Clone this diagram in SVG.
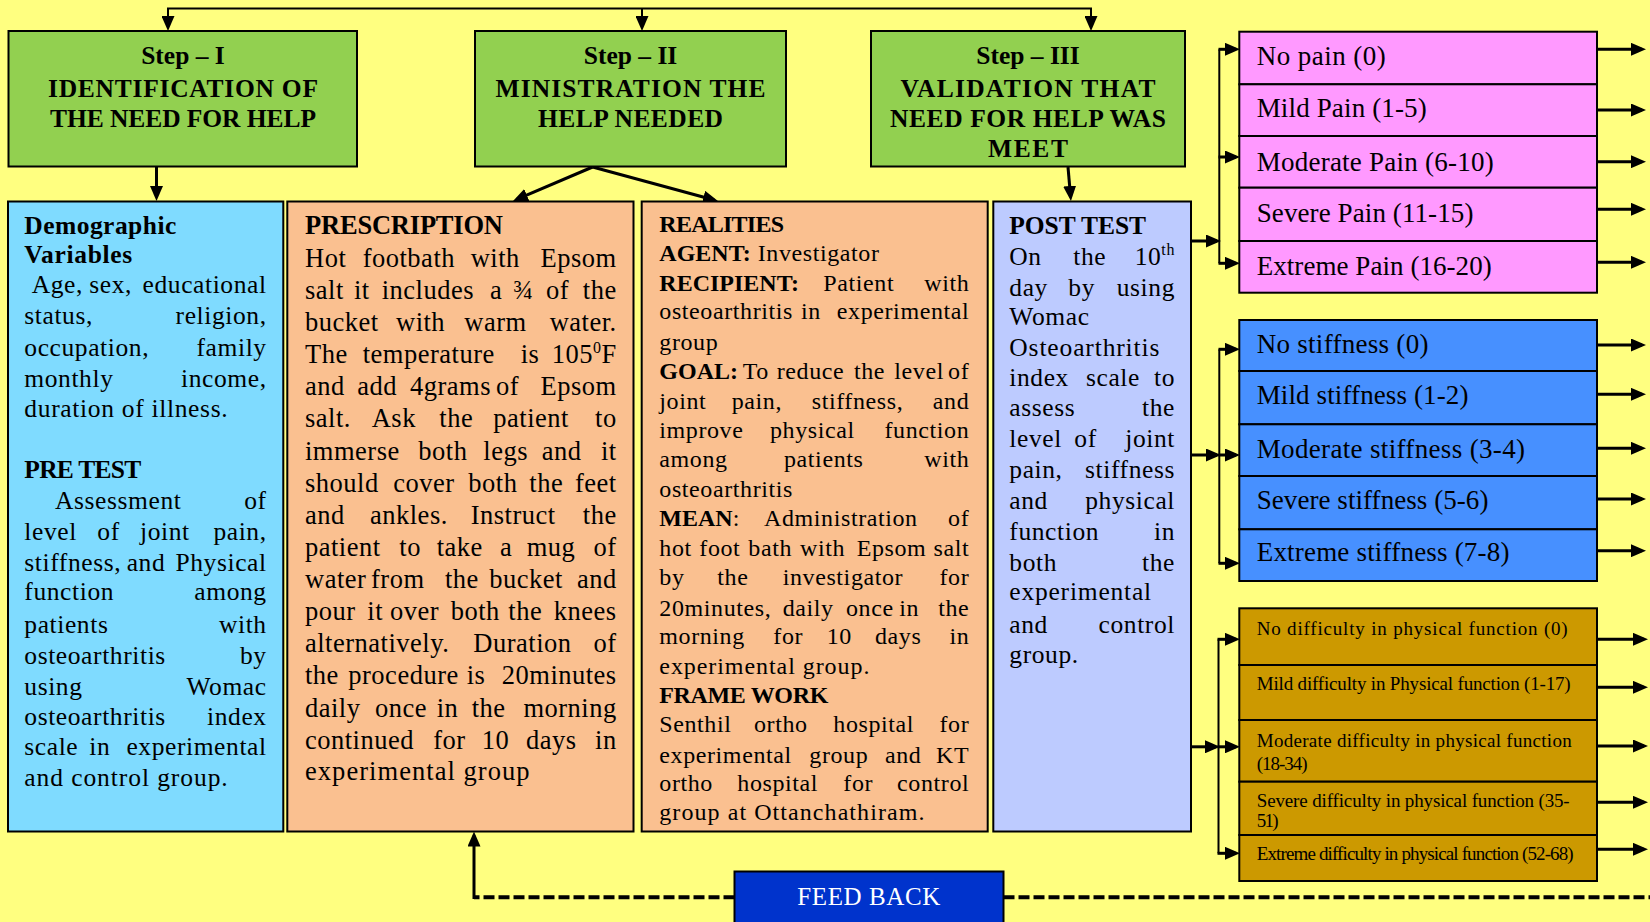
<svg xmlns="http://www.w3.org/2000/svg" width="1650" height="922" viewBox="0 0 1650 922">
<style>
.box{stroke:#000;stroke-width:2}
.green{fill:#92D050}.cyan{fill:#7FDBFF}.peach{fill:#FAC090}.lav{fill:#BDCBFF}
.pink{fill:#FF99FF}.blue{fill:#4790FF}.gold{fill:#CC9900}.fbk{fill:#0033CC}
text{font-family:"Liberation Serif","Times New Roman",serif;fill:#000}
.hd{font-weight:bold;font-size:25.5px;text-anchor:middle}
.d{font-size:25.5px;letter-spacing:0.6px}
.p{font-size:26.5px;letter-spacing:0.5px}
.r{font-size:24px;letter-spacing:0.6px}
.b{font-weight:bold;letter-spacing:0}
.s{font-size:27px}
.g{font-size:19px}
.e{text-anchor:end}
.fbt{font-size:25px;fill:#fff;text-anchor:middle}
.ln{fill:none;stroke:#000;stroke-width:3}
.thin{fill:none;stroke:#000;stroke-width:2}
.dash{fill:none;stroke:#000;stroke-width:4;stroke-dasharray:11 4}
</style>
<defs>
<marker id="ah" viewBox="0 0 15 13" refX="11" refY="6.5" markerWidth="15" markerHeight="13" markerUnits="userSpaceOnUse" orient="auto">
<path d="M0,0 L15,6.5 L0,13 z" fill="#000"/>
</marker>
</defs>
<rect x="0" y="0" width="1650" height="922" fill="#FFFF80"/>

<g id="connectors">
<path class="thin" d="M168,27 V8.5 H1091 V27" marker-end="url(#ah)"/>
<path class="thin" d="M168,8.5 V27" marker-end="url(#ah)"/>
<path class="thin" d="M642,8.5 V27" marker-end="url(#ah)"/>
<path class="ln" d="M156.5,166.5 V197" marker-end="url(#ah)"/>
<path class="ln" d="M592.6,167 L516.7,199.4" marker-end="url(#ah)"/>
<path class="ln" d="M592.6,167 L714.1,200" marker-end="url(#ah)"/>
<path class="ln" d="M1068,167 L1070.6,197" marker-end="url(#ah)"/>
<path class="dash" d="M734.5,897.3 H474"/>
<path class="dash" d="M1003.5,897.3 H1650"/>
<path class="ln" d="M474,899 V835.5" marker-end="url(#ah)"/>
<path class="ln" d="M1191,241 H1217" marker-end="url(#ah)"/>
<path class="thin" d="M1219.3,49.3 V263.3"/>
<path class="ln" d="M1218.5,49.3 H1236" marker-end="url(#ah)"/>
<path class="ln" d="M1218.5,157 H1236" marker-end="url(#ah)"/>
<path class="ln" d="M1218.5,263.3 H1236" marker-end="url(#ah)"/>
<path class="ln" d="M1191,455 H1217" marker-end="url(#ah)"/>
<path class="thin" d="M1219.3,349.3 V563.3"/>
<path class="ln" d="M1218.5,349.3 H1236" marker-end="url(#ah)"/>
<path class="ln" d="M1218.5,455 H1236" marker-end="url(#ah)"/>
<path class="ln" d="M1218.5,563.3 H1236" marker-end="url(#ah)"/>
<path class="ln" d="M1191,746.8 H1216" marker-end="url(#ah)"/>
<path class="thin" d="M1218.5,639.3 V853.3"/>
<path class="ln" d="M1217.5,639.3 H1236" marker-end="url(#ah)"/>
<path class="ln" d="M1217.5,746.8 H1236" marker-end="url(#ah)"/>
<path class="ln" d="M1217.5,853.3 H1236" marker-end="url(#ah)"/>
<path class="ln" d="M1597,49.3 H1642" marker-end="url(#ah)"/>
<path class="ln" d="M1597,110 H1642" marker-end="url(#ah)"/>
<path class="ln" d="M1597,161.7 H1642" marker-end="url(#ah)"/>
<path class="ln" d="M1597,209.3 H1642" marker-end="url(#ah)"/>
<path class="ln" d="M1597,262.3 H1642" marker-end="url(#ah)"/>
<path class="ln" d="M1597,345 H1642" marker-end="url(#ah)"/>
<path class="ln" d="M1597,394.3 H1642" marker-end="url(#ah)"/>
<path class="ln" d="M1597,448.3 H1642" marker-end="url(#ah)"/>
<path class="ln" d="M1597,499 H1642" marker-end="url(#ah)"/>
<path class="ln" d="M1597,550.7 H1642" marker-end="url(#ah)"/>
<path class="ln" d="M1597,639.3 H1644" marker-end="url(#ah)"/>
<path class="ln" d="M1597,687.3 H1644" marker-end="url(#ah)"/>
<path class="ln" d="M1597,746 H1644" marker-end="url(#ah)"/>
<path class="ln" d="M1597,802.3 H1644" marker-end="url(#ah)"/>
<path class="ln" d="M1597,849.3 H1644" marker-end="url(#ah)"/>
</g>

<g id="step1">
<rect class="box green" x="8.5" y="31" width="348.5" height="135.5"/>
<text class="hd" x="183" y="63.5">Step – I</text>
<text class="hd" x="183" y="96.5" textLength="270">IDENTIFICATION OF</text>
<text class="hd" x="183" y="126.5" textLength="266">THE NEED FOR HELP</text>
</g>
<g id="step2">
<rect class="box green" x="475" y="31" width="311" height="135.5"/>
<text class="hd" x="630.5" y="63.5">Step – II</text>
<text class="hd" x="630.5" y="96.5" textLength="270">MINISTRATION THE</text>
<text class="hd" x="630.5" y="126.5" textLength="185">HELP NEEDED</text>
</g>
<g id="step3">
<rect class="box green" x="871" y="31" width="314" height="135.5"/>
<text class="hd" x="1028" y="63.5">Step – III</text>
<text class="hd" x="1028" y="96.5" textLength="255">VALIDATION THAT</text>
<text class="hd" x="1028" y="126.5" textLength="276">NEED FOR HELP WAS</text>
<text class="hd" x="1028" y="156.5" textLength="80">MEET</text>
</g>

<g id="demographic">
<rect class="box cyan" x="8" y="201.5" width="275.3" height="630"/>
<text class="d b" x="24.3" y="233.5" textLength="152">Demographic</text>
<text class="d b" x="24.3" y="262.6" textLength="108">Variables</text>
<text class="d" y="292.8"><tspan x="31.7">Age,</tspan><tspan x="89.3">sex,</tspan><tspan x="266.7" class="e">educational</tspan></text>
<text class="d" y="323.5"><tspan x="24.3">status,</tspan><tspan x="266.7" class="e">religion,</tspan></text>
<text class="d" y="355.8"><tspan x="24.3">occupation,</tspan><tspan x="266.7" class="e">family</tspan></text>
<text class="d" y="386.9"><tspan x="24.3">monthly</tspan><tspan x="266.7" class="e">income,</tspan></text>
<text class="d" x="24.3" y="417.2" textLength="204">duration of illness.</text>
<text class="d b" x="24.3" y="478.1" textLength="117">PRE TEST</text>
<text class="d" y="509.2"><tspan x="55">Assessment</tspan><tspan x="266.7" class="e">of</tspan></text>
<text class="d" y="540.3"><tspan x="24.3">level</tspan><tspan x="97.3">of</tspan><tspan x="140">joint</tspan><tspan x="266.7" class="e">pain,</tspan></text>
<text class="d" y="570.6"><tspan x="24.3">stiffness,</tspan><tspan x="126.7">and</tspan><tspan x="266.7" class="e">Physical</tspan></text>
<text class="d" y="600.4"><tspan x="24.3">function</tspan><tspan x="266.7" class="e">among</tspan></text>
<text class="d" y="632.8"><tspan x="24.3">patients</tspan><tspan x="266.7" class="e">with</tspan></text>
<text class="d" y="663.5"><tspan x="24.3">osteoarthritis</tspan><tspan x="266.7" class="e">by</tspan></text>
<text class="d" y="695"><tspan x="24.3">using</tspan><tspan x="266.7" class="e">Womac</tspan></text>
<text class="d" y="724.8"><tspan x="24.3">osteoarthritis</tspan><tspan x="266.7" class="e">index</tspan></text>
<text class="d" y="754.7"><tspan x="24.3">scale</tspan><tspan x="89.3">in</tspan><tspan x="266.7" class="e">experimental</tspan></text>
<text class="d" x="24.3" y="785.8" textLength="204">and control group.</text>
</g>

<g id="prescription">
<rect class="box peach" x="287.3" y="201.5" width="346.2" height="630"/>
<text class="p b" x="305" y="233.5" textLength="198">PRESCRIPTION</text>
<text class="p" y="266.7"><tspan x="305">Hot</tspan><tspan x="362.7">footbath</tspan><tspan x="470.7">with</tspan><tspan x="616.7" class="e">Epsom</tspan></text>
<text class="p" y="298.6"><tspan x="305">salt</tspan><tspan x="354">it</tspan><tspan x="381.7">includes</tspan><tspan x="490">a</tspan><tspan x="513.3">¾</tspan><tspan x="546">of</tspan><tspan x="616.7" class="e">the</tspan></text>
<text class="p" y="331"><tspan x="305">bucket</tspan><tspan x="396">with</tspan><tspan x="464.3">warm</tspan><tspan x="616.7" class="e">water.</tspan></text>
<text class="p" y="363.3"><tspan x="305">The</tspan><tspan x="362.7">temperature</tspan><tspan x="520.7">is</tspan><tspan x="616.7" class="e">105<tspan dy="-10" font-size="16">0</tspan><tspan dy="10">F</tspan></tspan></text>
<text class="p" y="395.2"><tspan x="305">and</tspan><tspan x="357.3">add</tspan><tspan x="410">4grams</tspan><tspan x="496">of</tspan><tspan x="616.7" class="e">Epsom</tspan></text>
<text class="p" y="427.1"><tspan x="305">salt.</tspan><tspan x="371.7">Ask</tspan><tspan x="439.3">the</tspan><tspan x="493.3">patient</tspan><tspan x="616.7" class="e">to</tspan></text>
<text class="p" y="459.5"><tspan x="305">immerse</tspan><tspan x="418.3">both</tspan><tspan x="483.3">legs</tspan><tspan x="541.7">and</tspan><tspan x="616.7" class="e">it</tspan></text>
<text class="p" y="491.8"><tspan x="305">should</tspan><tspan x="393.3">cover</tspan><tspan x="468.3">both</tspan><tspan x="529.3">the</tspan><tspan x="616.7" class="e">feet</tspan></text>
<text class="p" y="523.7"><tspan x="305">and</tspan><tspan x="370">ankles.</tspan><tspan x="470.7">Instruct</tspan><tspan x="616.7" class="e">the</tspan></text>
<text class="p" y="555.7"><tspan x="305">patient</tspan><tspan x="399.3">to</tspan><tspan x="436.7">take</tspan><tspan x="500">a</tspan><tspan x="526.7">mug</tspan><tspan x="616.7" class="e">of</tspan></text>
<text class="p" y="588"><tspan x="305">water</tspan><tspan x="371">from</tspan><tspan x="445">the</tspan><tspan x="489.3">bucket</tspan><tspan x="616.7" class="e">and</tspan></text>
<text class="p" y="620.3"><tspan x="305">pour</tspan><tspan x="367.3">it</tspan><tspan x="390">over</tspan><tspan x="450.7">both</tspan><tspan x="508.3">the</tspan><tspan x="616.7" class="e">knees</tspan></text>
<text class="p" y="652.3"><tspan x="305">alternatively.</tspan><tspan x="473.3">Duration</tspan><tspan x="616.7" class="e">of</tspan></text>
<text class="p" y="684.2"><tspan x="305">the</tspan><tspan x="348.3">procedure</tspan><tspan x="466.7">is</tspan><tspan x="616.7" class="e">20minutes</tspan></text>
<text class="p" y="716.5"><tspan x="305">daily</tspan><tspan x="375">once</tspan><tspan x="436.7">in</tspan><tspan x="471.7">the</tspan><tspan x="616.7" class="e">morning</tspan></text>
<text class="p" y="748.9"><tspan x="305">continued</tspan><tspan x="433.3">for</tspan><tspan x="481.7">10</tspan><tspan x="526">days</tspan><tspan x="616.7" class="e">in</tspan></text>
<text class="p" x="305" y="779.6" textLength="225">experimental group</text>
</g>

<g id="realities">
<rect class="box peach" x="641.7" y="201.5" width="346" height="630"/>
<text class="r b" x="659.3" y="231.5" textLength="124.7">REALITIES</text>
<text class="r" y="260.5"><tspan x="659.3" class="b">AGENT:</tspan><tspan x="757.7">Investigator</tspan></text>
<text class="r" y="290.7"><tspan x="659.3" class="b">RECIPIENT:</tspan><tspan x="823.3">Patient</tspan><tspan x="969.3" class="e">with</tspan></text>
<text class="r" y="319.4"><tspan x="659.3">osteoarthritis</tspan><tspan x="801">in</tspan><tspan x="969.3" class="e">experimental</tspan></text>
<text class="r" x="659.3" y="349.6">group</text>
<text class="r" y="378.6"><tspan x="659.3" class="b">GOAL:</tspan><tspan x="742.7">To</tspan><tspan x="776.7">reduce</tspan><tspan x="854">the</tspan><tspan x="894.3">level</tspan><tspan x="969.3" class="e">of</tspan></text>
<text class="r" y="408.5"><tspan x="659.3">joint</tspan><tspan x="731.7">pain,</tspan><tspan x="811.7">stiffness,</tspan><tspan x="969.3" class="e">and</tspan></text>
<text class="r" y="437.5"><tspan x="659.3">improve</tspan><tspan x="770">physical</tspan><tspan x="969.3" class="e">function</tspan></text>
<text class="r" y="467"><tspan x="659.3">among</tspan><tspan x="784">patients</tspan><tspan x="969.3" class="e">with</tspan></text>
<text class="r" x="659.3" y="496.8">osteoarthritis</text>
<text class="r" y="525.8"><tspan x="659.3" class="b">MEAN</tspan><tspan>:</tspan><tspan x="764">Administration</tspan><tspan x="969.3" class="e">of</tspan></text>
<text class="r" y="555.7"><tspan x="659.3">hot</tspan><tspan x="699.3">foot</tspan><tspan x="748.3">bath</tspan><tspan x="800">with</tspan><tspan x="856.7">Epsom</tspan><tspan x="969.3" class="e">salt</tspan></text>
<text class="r" y="584.7"><tspan x="659.3">by</tspan><tspan x="717.3">the</tspan><tspan x="782.7">investigator</tspan><tspan x="969.3" class="e">for</tspan></text>
<text class="r" y="615.8"><tspan x="659.3">20minutes,</tspan><tspan x="782.7">daily</tspan><tspan x="846">once</tspan><tspan x="899.3">in</tspan><tspan x="969.3" class="e">the</tspan></text>
<text class="r" y="644"><tspan x="659.3">morning</tspan><tspan x="773.3">for</tspan><tspan x="826.7">10</tspan><tspan x="875">days</tspan><tspan x="969.3" class="e">in</tspan></text>
<text class="r" x="659.3" y="674.2" textLength="210.7">experimental group.</text>
<text class="r b" x="659.3" y="702.9" textLength="169">FRAME WORK</text>
<text class="r" y="732.3"><tspan x="659.3">Senthil</tspan><tspan x="754">ortho</tspan><tspan x="833.3">hospital</tspan><tspan x="969.3" class="e">for</tspan></text>
<text class="r" y="763"><tspan x="659.3">experimental</tspan><tspan x="809.3">group</tspan><tspan x="885">and</tspan><tspan x="969.3" class="e">KT</tspan></text>
<text class="r" y="791.2"><tspan x="659.3">ortho</tspan><tspan x="737.3">hospital</tspan><tspan x="843.3">for</tspan><tspan x="969.3" class="e">control</tspan></text>
<text class="r" x="659.3" y="820.2" textLength="265.7">group at Ottanchathiram.</text>
</g>

<g id="posttest">
<rect class="box lav" x="993.3" y="201.5" width="197.7" height="630"/>
<text class="d b" x="1009.3" y="233.5" textLength="136.7">POST TEST</text>
<text class="d" y="264.6"><tspan x="1009.3">On</tspan><tspan x="1073.3">the</tspan><tspan x="1175" class="e">10<tspan dy="-10" font-size="16">th</tspan></tspan></text>
<text class="d" y="295.7"><tspan x="1009.3">day</tspan><tspan x="1068.3">by</tspan><tspan x="1175" class="e">using</tspan></text>
<text class="d" x="1009.3" y="324.7">Womac</text>
<text class="d" x="1009.3" y="355.8" textLength="150.7">Osteoarthritis</text>
<text class="d" y="385.7"><tspan x="1009.3">index</tspan><tspan x="1086">scale</tspan><tspan x="1175" class="e">to</tspan></text>
<text class="d" y="416"><tspan x="1009.3">assess</tspan><tspan x="1175" class="e">the</tspan></text>
<text class="d" y="447"><tspan x="1009.3">level</tspan><tspan x="1074.3">of</tspan><tspan x="1175" class="e">joint</tspan></text>
<text class="d" y="478.1"><tspan x="1009.3">pain,</tspan><tspan x="1175" class="e">stiffness</tspan></text>
<text class="d" y="509.2"><tspan x="1009.3">and</tspan><tspan x="1175" class="e">physical</tspan></text>
<text class="d" y="540.3"><tspan x="1009.3">function</tspan><tspan x="1175" class="e">in</tspan></text>
<text class="d" y="570.6"><tspan x="1009.3">both</tspan><tspan x="1175" class="e">the</tspan></text>
<text class="d" x="1009.3" y="600.4" textLength="142.4">experimental</text>
<text class="d" y="632.8"><tspan x="1009.3">and</tspan><tspan x="1175" class="e">control</tspan></text>
<text class="d" x="1009.3" y="662.6">group.</text>
</g>

<g id="pain-scale">
<g id="pain-0"><rect class="box pink" x="1239.3" y="31.7" width="357.7" height="52.6"/><text class="s" x="1256.7" y="65" textLength="129">No pain (0)</text></g>
<g id="pain-1"><rect class="box pink" x="1239.3" y="84.3" width="357.7" height="51.7"/><text class="s" x="1256.7" y="116.7" textLength="170">Mild Pain (1-5)</text></g>
<g id="pain-2"><rect class="box pink" x="1239.3" y="136" width="357.7" height="51.7"/><text class="s" x="1256.7" y="170.7" textLength="237">Moderate Pain (6-10)</text></g>
<g id="pain-3"><rect class="box pink" x="1239.3" y="187.7" width="357.7" height="53.3"/><text class="s" x="1256.7" y="221.7" textLength="216.7">Severe Pain (11-15)</text></g>
<g id="pain-4"><rect class="box pink" x="1239.3" y="241" width="357.7" height="51.7"/><text class="s" x="1256.7" y="275" textLength="235">Extreme Pain (16-20)</text></g>
</g>

<g id="stiffness-scale">
<g id="stiff-0"><rect class="box blue" x="1239.3" y="320" width="357.7" height="51"/><text class="s" x="1256.7" y="353.3" textLength="171.7">No stiffness (0)</text></g>
<g id="stiff-1"><rect class="box blue" x="1239.3" y="371" width="357.7" height="53.3"/><text class="s" x="1256.7" y="404.3" textLength="211.7">Mild stiffness (1-2)</text></g>
<g id="stiff-2"><rect class="box blue" x="1239.3" y="424.3" width="357.7" height="51.7"/><text class="s" x="1256.7" y="458.3" textLength="268.3">Moderate stiffness (3-4)</text></g>
<g id="stiff-3"><rect class="box blue" x="1239.3" y="476" width="357.7" height="53.3"/><text class="s" x="1256.7" y="509.3" textLength="231.7">Severe stiffness (5-6)</text></g>
<g id="stiff-4"><rect class="box blue" x="1239.3" y="529.3" width="357.7" height="51.7"/><text class="s" x="1256.7" y="560.7" textLength="252.7">Extreme stiffness (7-8)</text></g>
</g>

<g id="function-scale">
<g id="func-0"><rect class="box gold" x="1239.3" y="608.3" width="357.7" height="56.7"/><text class="g" x="1256.7" y="635" textLength="311">No difficulty in physical function (0)</text></g>
<g id="func-1"><rect class="box gold" x="1239.3" y="665" width="357.7" height="55"/><text class="g" x="1256.7" y="690" textLength="314">Mild difficulty in Physical function (1-17)</text></g>
<g id="func-2"><rect class="box gold" x="1239.3" y="720" width="357.7" height="61.7"/><text class="g" x="1256.7" y="746.7" textLength="315">Moderate difficulty in physical function</text><text class="g" x="1256.7" y="770" textLength="51">(18-34)</text></g>
<g id="func-3"><rect class="box gold" x="1239.3" y="781.7" width="357.7" height="53.3"/><text class="g" x="1256.7" y="806.7" textLength="313">Severe difficulty in physical function (35-</text><text class="g" x="1256.7" y="826.7" textLength="22">51)</text></g>
<g id="func-4"><rect class="box gold" x="1239.3" y="835" width="357.7" height="46"/><text class="g" x="1256.7" y="860" font-size="17" textLength="317">Extreme difficulty in physical function (52-68)</text></g>
</g>

<g id="feedback">
<rect class="box fbk" x="734.5" y="871.5" width="269" height="55"/>
<text class="fbt" x="868.8" y="905" textLength="143">FEED BACK</text>
</g>
</svg>
